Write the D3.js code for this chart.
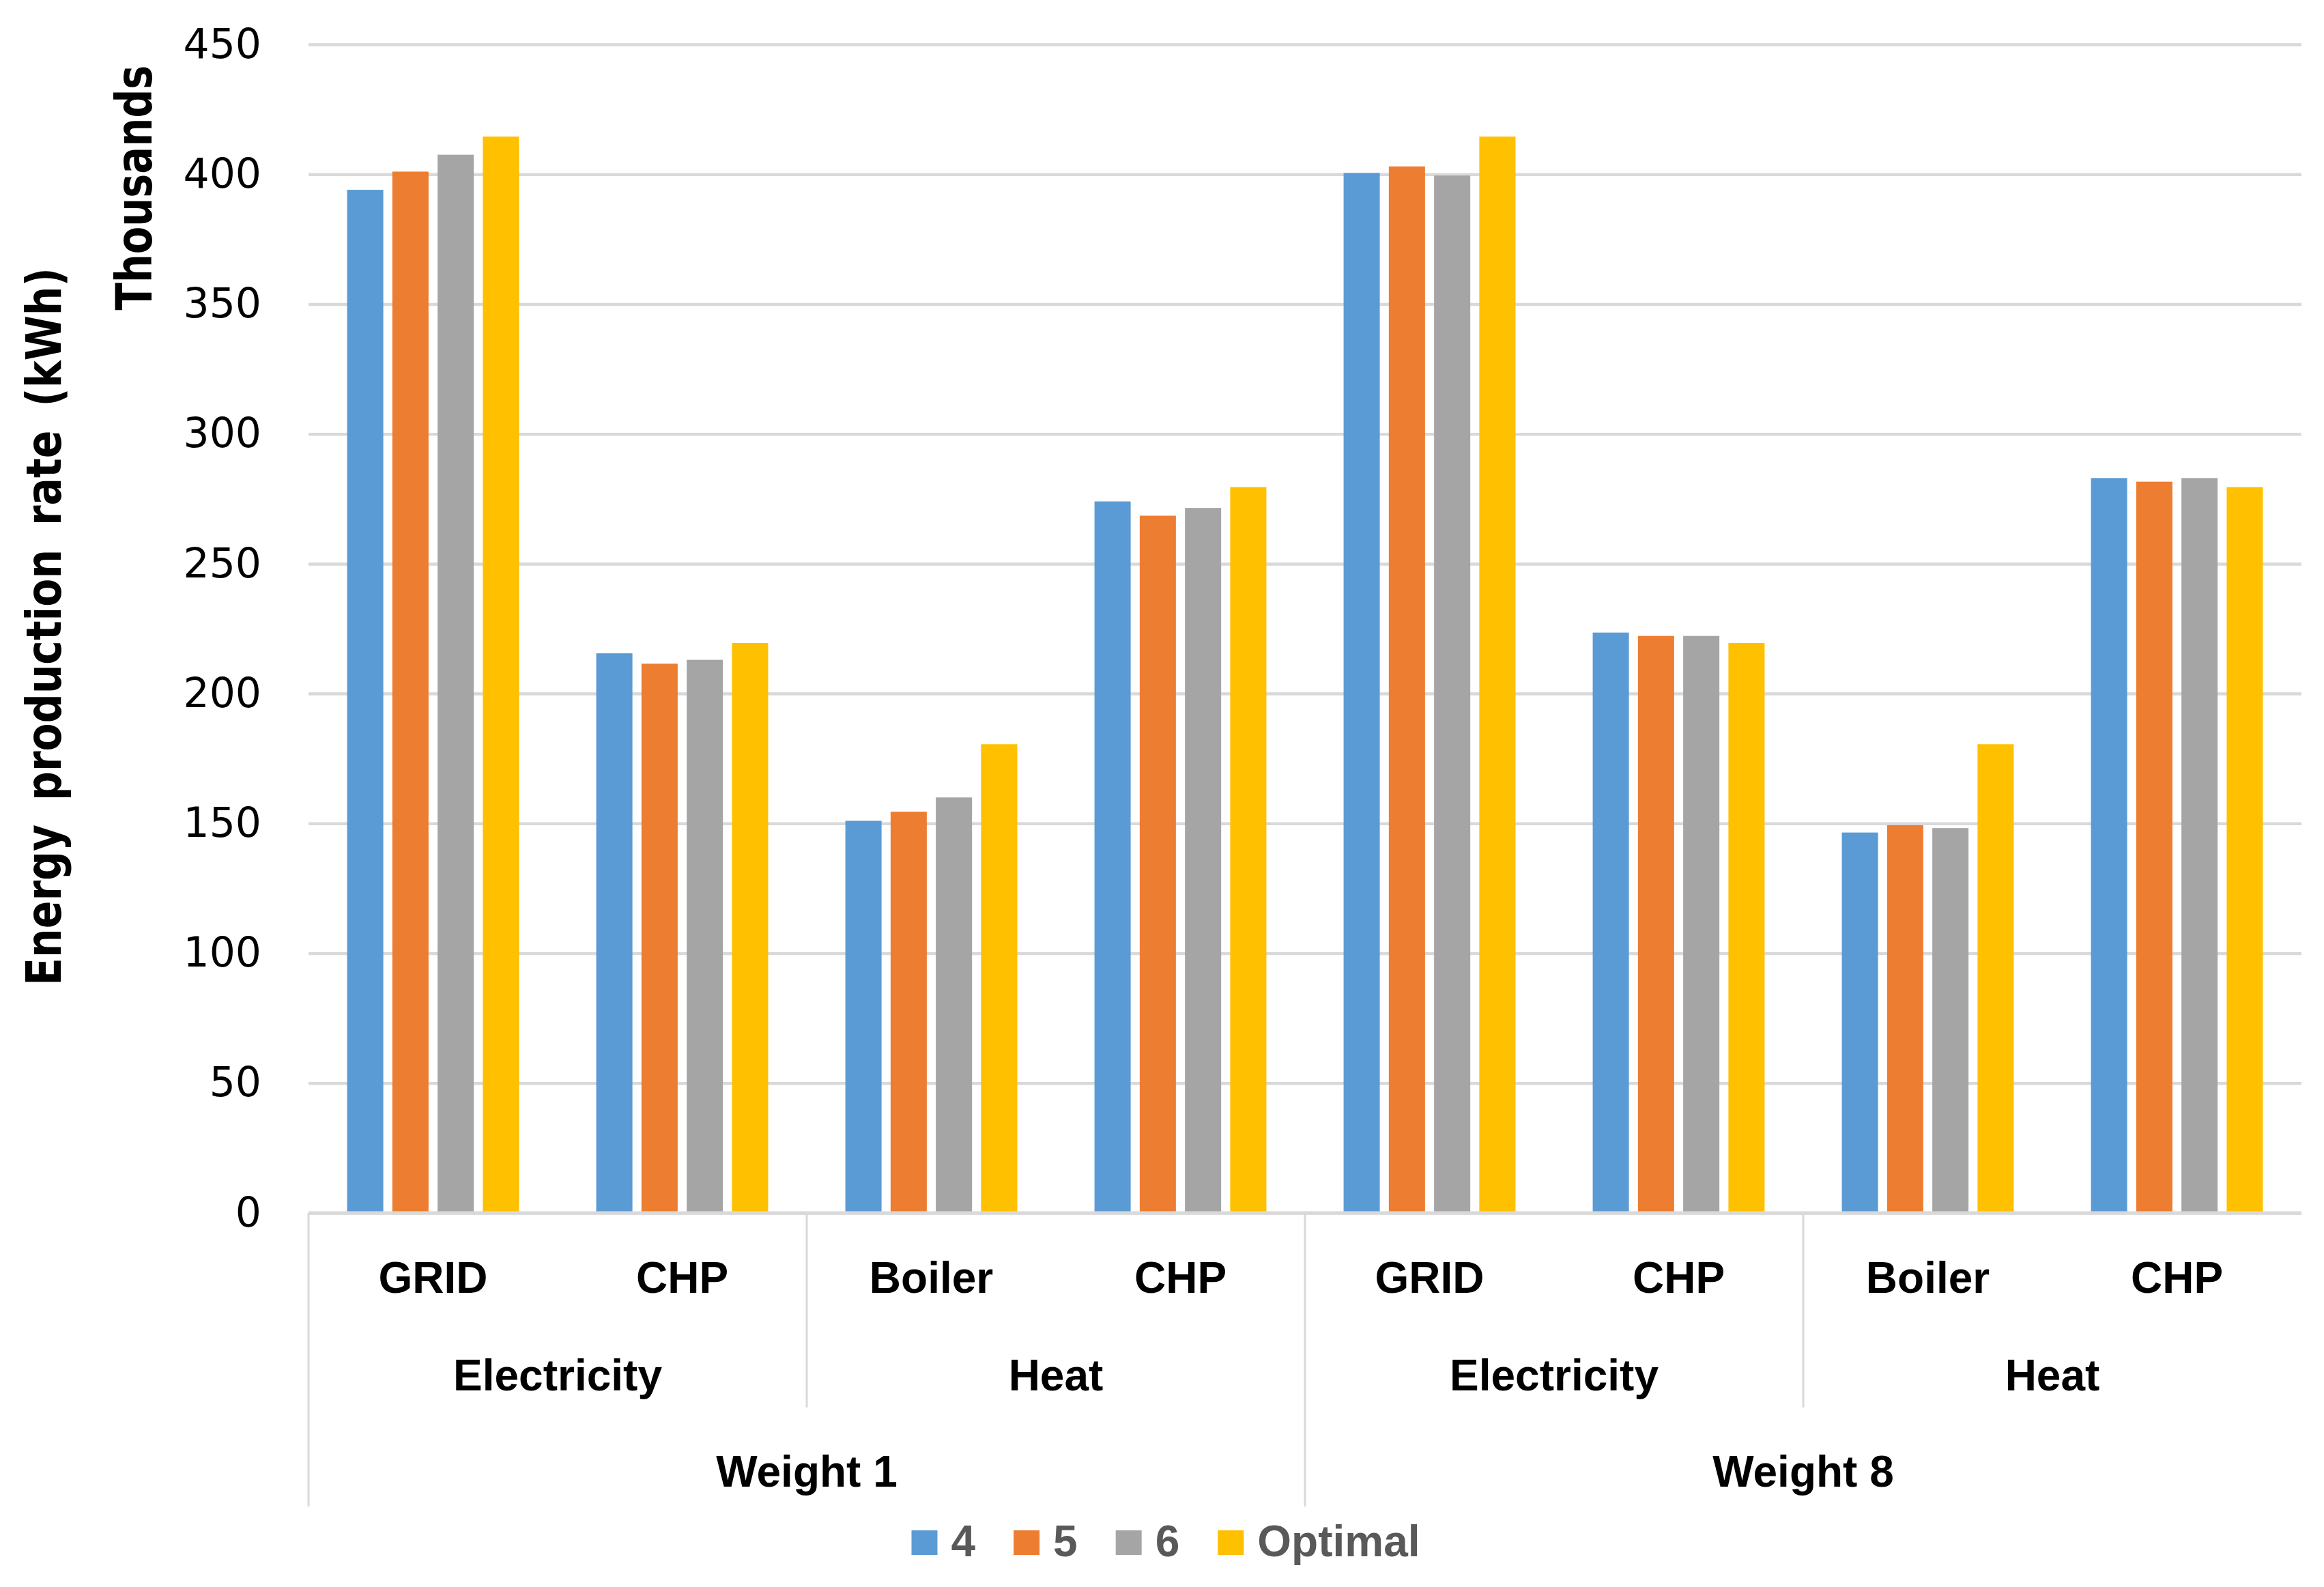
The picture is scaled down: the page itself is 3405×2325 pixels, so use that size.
<!DOCTYPE html>
<html>
<head>
<meta charset="utf-8">
<script src="https://cdn.jsdelivr.net/npm/d3@7"></script>
<style>
  body { margin: 0; background: #fff; }
  svg { display: block; }
</style>
</head>
<body>
<div id="plot"></div>
<script>
// data (thousands of kWh)
var sources = ["GRID", "CHP", "Boiler", "CHP", "GRID", "CHP", "Boiler", "CHP"];
var energyTypes = ["Electricity", "Heat", "Electricity", "Heat"];
var weights = ["Weight 1", "Weight 8"];
var seriesNames = ["4", "5", "6", "Optimal"];
var s4 = [394, 215.5, 151, 274, 400.5, 223.5, 146.5, 283];
var s5 = [401, 211.5, 154.5, 268.5, 403, 222.2, 149.3, 281.6];
var s6 = [407.5, 213, 160, 271.5, 399.5, 222.2, 148.2, 283];
var sOpt = [414.5, 219.5, 180.5, 279.5, 414.5, 219.5, 180.5, 279.5];
var yTicks = [0, 50, 100, 150, 200, 250, 300, 350, 400, 450];
var colors = ["#5B9BD5", "#ED7D31", "#A5A5A5", "#FFC000"];

var series = [s4, s5, s6, sOpt];

var W = 3405, H = 2325;
var margin = {t: 65, r: 33, b: 548, l: 452};
var width = W - margin.l - margin.r,
    height = H - margin.t - margin.b;

var svg = d3.select('#plot')
    .append('svg')
    .attr('width', W)
    .attr('height', H);

var plot = svg.append('g')
    .attr('transform', 'translate(' + margin.l + ',' + margin.t + ')');

var y = d3.scaleLinear().domain([0, 450]).range([height, 0]);

var idx = d3.range(sources.length);
var x0 = d3.scaleBand().domain(idx).range([0, width]).paddingInner(0.31).paddingOuter(0.155);
var x1 = d3.scaleBand().domain(d3.range(seriesNames.length)).range([0, x0.bandwidth()]).paddingInner(0.2);
var xFull = d3.scaleBand().domain(idx).range([0, width]);
var xType = d3.scaleBand().domain(d3.range(energyTypes.length)).range([0, width]);
var xWeight = d3.scaleBand().domain(d3.range(weights.length)).range([0, width]);

// y axis with gridlines
var yAxis = plot.append('g')
    .call(d3.axisLeft(y).tickValues(yTicks).tickSize(-width).tickPadding(69));
yAxis.select('.domain').remove();
yAxis.selectAll('.tick line')
    .attr('stroke', '#d9d9d9')
    .attr('stroke-width', 4.5);
yAxis.selectAll('.tick text')
    .attr('fill', '#000')
    .style('font-family', 'DejaVu Sans')
    .style('font-size', '60px');

// bars
series.forEach(function (vals, s) {
    plot.append('g')
        .selectAll('rect')
        .data(vals)
        .enter()
        .append('rect')
        .attr('x', function (d, i) { return x0(i) + x1(s); })
        .attr('y', function (d) { return y(d); })
        .attr('width', x1.bandwidth())
        .attr('height', function (d) { return y(0) - y(d); })
        .style('fill', colors[s]);
});

// x axis line
plot.append('line')
    .attr('x1', 0).attr('x2', width)
    .attr('y1', y(0)).attr('y2', y(0))
    .attr('stroke', '#d9d9d9')
    .attr('stroke-width', 5);

// separators of the multi-level axis
var sepG = plot.append('g').attr('stroke', '#d9d9d9').attr('stroke-width', 3);
d3.range(energyTypes.length).forEach(function (i) {
    var long = (i % 2 === 0);
    sepG.append('line')
        .attr('x1', xType(i)).attr('x2', xType(i))
        .attr('y1', y(0)).attr('y2', y(0) + (long ? 430 : 285));
});

var labFont = "'Liberation Sans', Arial, sans-serif";
plot.append('g').selectAll('text')
    .data(sources).enter().append('text')
    .attr('x', function (d, i) { return xFull(i) + xFull.bandwidth() / 2; })
    .attr('y', y(0) + 117)
    .attr('text-anchor', 'middle')
    .style('font-family', labFont).style('font-weight', 'bold').style('font-size', '64px')
    .text(function (d) { return d; });

plot.append('g').selectAll('text')
    .data(energyTypes).enter().append('text')
    .attr('x', function (d, i) { return xType(i) + xType.bandwidth() / 2; })
    .attr('y', y(0) + 260)
    .attr('text-anchor', 'middle')
    .style('font-family', labFont).style('font-weight', 'bold').style('font-size', '64px')
    .text(function (d) { return d; });

plot.append('g').selectAll('text')
    .data(weights).enter().append('text')
    .attr('x', function (d, i) { return xWeight(i) + xWeight.bandwidth() / 2; })
    .attr('y', y(0) + 401)
    .attr('text-anchor', 'middle')
    .style('font-family', labFont).style('font-weight', 'bold').style('font-size', '64px')
    .text(function (d) { return d; });

// y titles
svg.append('text')
    .attr('transform', 'translate(89,918) rotate(-90) scale(1,1.2)')
    .attr('text-anchor', 'middle')
    .style('font-family', 'DejaVu Sans').style('font-weight', 'bold').style('font-size', '60px')
    .style('word-spacing', '14px')
    .text('Energy production rate (kWh)');

svg.append('text')
    .attr('transform', 'translate(222,275) rotate(-90) scale(1,1.25)')
    .attr('text-anchor', 'middle')
    .style('font-family', 'DejaVu Sans').style('font-weight', 'bold').style('font-size', '59px')
    .text('Thousands');

// legend
var legend = svg.append('g');
var lx = 0;
seriesNames.forEach(function (name, i) {
    var g = legend.append('g').attr('transform', 'translate(' + lx + ',0)');
    g.append('rect').attr('x', 0).attr('y', -38).attr('width', 38).attr('height', 36).style('fill', colors[i]);
    var t = g.append('text').attr('x', 58).attr('y', 0)
        .style('font-family', labFont).style('font-weight', 'bold').style('font-size', '64px')
        .attr('fill', '#595959')
        .text(name);
    lx += 58 + t.node().getComputedTextLength() + 56;
});
var lw = lx - 56;
legend.attr('transform', 'translate(' + (1708 - lw / 2) + ',2280)');
</script>
</body>
</html>
